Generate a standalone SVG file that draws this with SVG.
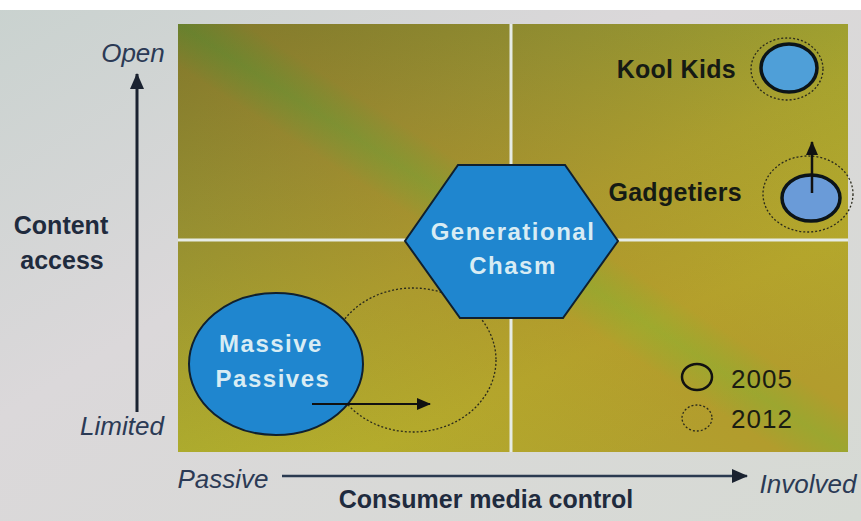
<svg xmlns="http://www.w3.org/2000/svg" width="861" height="521" viewBox="0 0 861 521">
<defs>
<linearGradient id="bg" x1="0" y1="0" x2="1" y2="1">
<stop offset="0" stop-color="#c9d2cf"/>
<stop offset="0.4" stop-color="#dbd8da"/>
<stop offset="1" stop-color="#d6dad4"/>
</linearGradient>
<linearGradient id="plot" x1="0" y1="0" x2="0.7" y2="1">
<stop offset="0" stop-color="#6f7e2c"/>
<stop offset="0.3" stop-color="#8e9432"/>
<stop offset="0.55" stop-color="#a7a52f"/>
<stop offset="0.8" stop-color="#b3b12c"/>
<stop offset="1" stop-color="#b0ad2e"/>
</linearGradient>
<linearGradient id="stripe" x1="0" y1="1" x2="1" y2="0">
<stop offset="0" stop-color="#b86a2a" stop-opacity="0"/>
<stop offset="0.45" stop-color="#b86a2a" stop-opacity="0.25"/>
<stop offset="0.5" stop-color="#4d8a35" stop-opacity="0.2"/>
<stop offset="0.55" stop-color="#b86a2a" stop-opacity="0.25"/>
<stop offset="1" stop-color="#b86a2a" stop-opacity="0"/>
</linearGradient>
<marker id="ah" markerWidth="14" markerHeight="12" refX="13" refY="6" orient="auto" markerUnits="userSpaceOnUse">
<path d="M0,0 L14,6 L0,12 z" fill="#111"/>
</marker>
<marker id="ahBig" markerWidth="16" markerHeight="14" refX="15" refY="7" orient="auto" markerUnits="userSpaceOnUse">
<path d="M0,0 L16,7 L0,14 z" fill="#1a2230"/>
</marker>
</defs>
<style>
.ax{font-family:"Liberation Sans",Arial,sans-serif;fill:#1f2b3e;}
.it{font-style:italic;font-size:26px;fill:#2b3a55;}
.bd{font-weight:bold;font-size:25px;}
.lbl{font-family:"Liberation Sans",Arial,sans-serif;font-weight:bold;font-size:25px;fill:#151a14;letter-spacing:0.3px;}
.inn{font-family:"Liberation Sans",Arial,sans-serif;font-weight:bold;font-size:24px;fill:#d8ecf4;text-anchor:middle;letter-spacing:1.5px;}
.leg{font-family:"Liberation Sans",Arial,sans-serif;font-size:26px;fill:#1a1c12;letter-spacing:1px;}
.blue{fill:#1f86cf;stroke:#0f2030;stroke-width:2;}
.small{fill:#4f9fd8;stroke:#0c1418;stroke-width:3.5;}
.dash{fill:none;stroke:#2a2a1c;stroke-width:1.3;stroke-dasharray:2 2;}
</style>
<rect x="0" y="0" width="861" height="521" fill="url(#bg)"/>
<rect x="0" y="0" width="861" height="10" fill="#ffffff"/>
<g id="plot-area">
<rect x="178" y="24" width="670" height="428" fill="url(#plot)"/>
<rect x="178" y="24" width="670" height="428" fill="url(#stripe)"/>
<line x1="511" y1="24" x2="511" y2="452" stroke="#e6ece6" stroke-width="3"/>
<line x1="178" y1="240" x2="848" y2="240" stroke="#e6ece6" stroke-width="3"/>
</g>
<g id="axes" class="ax">
<text class="it" x="133" y="62" text-anchor="middle">Open</text>
<text class="it" x="122" y="435" text-anchor="middle">Limited</text>
<text class="bd" x="61" y="234" text-anchor="middle">Content</text>
<text class="bd" x="62" y="269" text-anchor="middle">access</text>
<text class="it" x="223" y="488" text-anchor="middle">Passive</text>
<text class="it" x="808" y="493" text-anchor="middle">Involved</text>
<text class="bd" x="486" y="508" text-anchor="middle">Consumer media control</text>
</g>
<g id="massive-passives">
<ellipse cx="413" cy="360" rx="83" ry="72" class="dash"/>
<ellipse cx="276" cy="364" rx="87" ry="71" class="blue"/>
<text class="inn" x="271" y="352">Massive</text>
<text class="inn" x="273" y="387">Passives</text>
</g>
<g id="generational-chasm">
<polygon points="458,165 565,165 618,241 563,318 460,318 405,241" class="blue"/>
<text class="inn" x="513" y="240">Generational</text>
<text class="inn" x="513" y="274">Chasm</text>
</g>
<g id="kool-kids">
<ellipse cx="787" cy="69" rx="36" ry="31" class="dash"/>
<ellipse cx="789" cy="68" rx="28" ry="24" class="small"/>
<text class="lbl" x="736" y="78" text-anchor="end">Kool Kids</text>
</g>
<g id="gadgetiers">
<ellipse cx="808" cy="194" rx="45" ry="38" class="dash"/>
<ellipse cx="811" cy="198" rx="29" ry="23" class="small" fill="#6c9ad6" style="fill:#6a9bd8"/>
<text class="lbl" x="742" y="201" text-anchor="end">Gadgetiers</text>
</g>
<g id="legend">
<ellipse cx="697" cy="377" rx="15" ry="13" fill="none" stroke="#111" stroke-width="2.5"/>
<text class="leg" x="731" y="388">2005</text>
<ellipse cx="697" cy="418" rx="15" ry="13" class="dash"/>
<text class="leg" x="731" y="428">2012</text>
</g>
<g id="connectors">
<line x1="137" y1="412" x2="137" y2="74" stroke="#1a2230" stroke-width="3" marker-end="url(#ahBig)"/>
<line x1="282" y1="476" x2="747" y2="476" stroke="#2a3a50" stroke-width="2.5" marker-end="url(#ahBig)"/>
<line x1="312" y1="404" x2="430" y2="404" stroke="#111" stroke-width="2" marker-end="url(#ah)"/>
<line x1="812" y1="193" x2="812" y2="142" stroke="#111" stroke-width="2.5" marker-end="url(#ah)"/>
</g>
</svg>
